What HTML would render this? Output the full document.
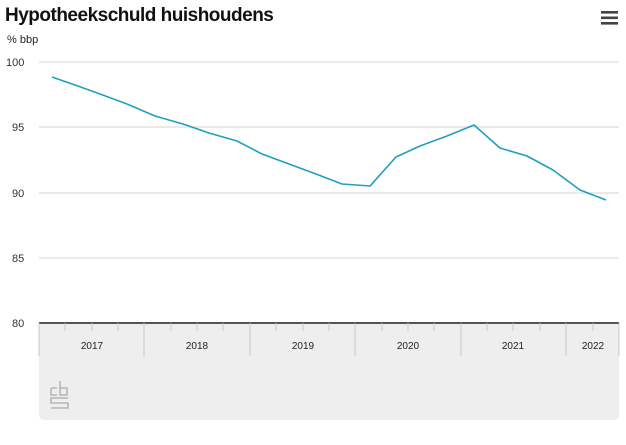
<!DOCTYPE html>
<html><head><meta charset="utf-8"><style>
body{margin:0;background:#fff;font-family:"Liberation Sans",sans-serif;}
</style></head><body>
<svg width="626" height="445" xmlns="http://www.w3.org/2000/svg" style="display:block">
<text x="5" y="21" font-size="19" font-weight="bold" fill="#111" font-family="Liberation Sans, sans-serif" letter-spacing="-0.5">Hypotheekschuld huishoudens</text>
<text x="7" y="43" font-size="11" fill="#222">% bbp</text>
<g fill="#444"><rect x="601" y="11" width="17" height="2.6"/><rect x="601" y="16.5" width="17" height="2.6"/><rect x="601" y="22" width="17" height="2.6"/></g>
<rect x="39" y="323" width="580" height="97" rx="5" fill="#eeeeee"/>
<rect x="39" y="323" width="580" height="10" fill="#eeeeee"/>
<g stroke="#e3e3e3" stroke-width="1.5">
<line x1="39" y1="62" x2="619" y2="62"/><line x1="39" y1="127" x2="619" y2="127"/><line x1="39" y1="193" x2="619" y2="193"/><line x1="39" y1="258" x2="619" y2="258"/>
</g>
<g font-size="11" fill="#333" text-anchor="start">
<text x="6" y="66">100</text><text x="12" y="131">95</text><text x="12" y="197">90</text><text x="12" y="262">85</text><text x="12" y="327">80</text>
</g>
<line x1="39" y1="323" x2="619" y2="323" stroke="#555" stroke-width="2"/>
<g stroke="#c8c8c8" stroke-width="1">
<line x1="39" y1="323" x2="39" y2="356"/><line x1="144" y1="323" x2="144" y2="356"/><line x1="250" y1="323" x2="250" y2="356"/><line x1="355" y1="323" x2="355" y2="356"/><line x1="461" y1="323" x2="461" y2="356"/><line x1="566" y1="323" x2="566" y2="356"/><line x1="619" y1="323" x2="619" y2="356"/>
<line x1="65" y1="323" x2="65" y2="331"/><line x1="92" y1="323" x2="92" y2="331"/><line x1="118" y1="323" x2="118" y2="331"/>
<line x1="171" y1="323" x2="171" y2="331"/><line x1="197" y1="323" x2="197" y2="331"/><line x1="223" y1="323" x2="223" y2="331"/>
<line x1="276" y1="323" x2="276" y2="331"/><line x1="303" y1="323" x2="303" y2="331"/><line x1="329" y1="323" x2="329" y2="331"/>
<line x1="382" y1="323" x2="382" y2="331"/><line x1="408" y1="323" x2="408" y2="331"/><line x1="434" y1="323" x2="434" y2="331"/>
<line x1="487" y1="323" x2="487" y2="331"/><line x1="513" y1="323" x2="513" y2="331"/><line x1="540" y1="323" x2="540" y2="331"/>
<line x1="593" y1="323" x2="593" y2="331"/>
</g>
<g font-size="10" fill="#222" text-anchor="middle">
<text x="92" y="349">2017</text><text x="197" y="349">2018</text><text x="303" y="349">2019</text><text x="408" y="349">2020</text><text x="513" y="349">2021</text><text x="593" y="349">2022</text>
</g>
<g fill="none" stroke="#aaa" stroke-width="1.3">
<path d="M51 388h6M51 388v7h6M60 381v14h7v-7h-7"/>
<path d="M68 398h-17v5h17v5h-17"/>
</g>
<polyline fill="none" stroke="#1fa0c0" stroke-width="1.6" stroke-linejoin="round" points="52,77 75,85 100,94 127,104 155,116 183,124 209,133 237,141 262,154 289,164 316,174 342,184 370,186 396,157 420,146 447,136 474,125 500,148 527,156 553,170 580,190 606,200"/>
</svg>
</body></html>
